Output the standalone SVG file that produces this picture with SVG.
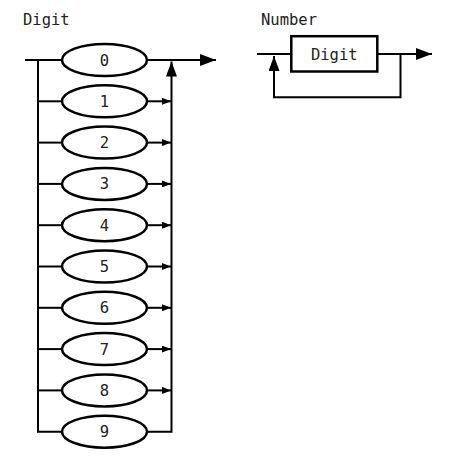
<svg xmlns="http://www.w3.org/2000/svg" width="449" height="465" viewBox="0 0 449 465">
<style>
  .bg { fill: #ffffff; }
  .lbl { font-family: "DejaVu Sans Mono", "Liberation Mono", monospace; font-size: 15.5px; fill: #222222; }
  .txt { font-family: "DejaVu Sans Mono", "Liberation Mono", monospace; font-size: 15.5px; fill: #222222; text-anchor: middle; }
  .term { fill: #ffffff; stroke: #000000; stroke-width: 2.5; }
  .wire { fill: none; stroke: #000000; stroke-width: 2; }
  .head { fill: #000000; }
</style>
<defs>
  <marker id="bigArrow" markerUnits="userSpaceOnUse" markerWidth="16" markerHeight="12" refX="16" refY="6" orient="auto">
    <path class="head" d="M0,0 L16,6 L0,12 z"/>
  </marker>
  <marker id="upArrow" markerUnits="userSpaceOnUse" markerWidth="15" markerHeight="11" refX="15" refY="5.5" orient="auto">
    <path class="head" d="M0,0 L15,5.5 L0,11 z"/>
  </marker>
  <marker id="smallArrow" markerUnits="userSpaceOnUse" markerWidth="9" markerHeight="7" refX="9" refY="3.5" orient="auto">
    <path class="head" d="M0,0 L9,3.5 L0,7 z"/>
  </marker>
</defs>
<rect class="bg" x="0" y="0" width="449" height="465"/>

<text class="lbl" x="23" y="25">Digit</text>
<text class="lbl" x="261" y="25">Number</text>

<g id="connectors">
  <!-- Digit diagram -->
  <path class="wire" d="M25,60 H61"/>
  <path class="wire" d="M148,60 H216" marker-end="url(#bigArrow)"/>
  <path class="wire" d="M38,60 V431.7 H61"/>
  <path class="wire" d="M148,431.7 H171.5 V61.5" marker-end="url(#upArrow)"/>
  <path class="wire" d="M38,101.3 H61"/>
  <path class="wire" d="M148,101.3 H171" marker-end="url(#smallArrow)"/>
  <path class="wire" d="M38,142.6 H61"/>
  <path class="wire" d="M148,142.6 H171" marker-end="url(#smallArrow)"/>
  <path class="wire" d="M38,183.9 H61"/>
  <path class="wire" d="M148,183.9 H171" marker-end="url(#smallArrow)"/>
  <path class="wire" d="M38,225.2 H61"/>
  <path class="wire" d="M148,225.2 H171" marker-end="url(#smallArrow)"/>
  <path class="wire" d="M38,266.5 H61"/>
  <path class="wire" d="M148,266.5 H171" marker-end="url(#smallArrow)"/>
  <path class="wire" d="M38,307.8 H61"/>
  <path class="wire" d="M148,307.8 H171" marker-end="url(#smallArrow)"/>
  <path class="wire" d="M38,349.1 H61"/>
  <path class="wire" d="M148,349.1 H171" marker-end="url(#smallArrow)"/>
  <path class="wire" d="M38,390.4 H61"/>
  <path class="wire" d="M148,390.4 H171" marker-end="url(#smallArrow)"/>
  <!-- Number diagram -->
  <path class="wire" d="M257,54 H291"/>
  <path class="wire" d="M378,54 H432" marker-end="url(#bigArrow)"/>
  <path class="wire" d="M400.5,54 V97.3 H274 V56" marker-end="url(#upArrow)"/>
</g>

<g id="d0"><ellipse class="term" cx="104.5" cy="60" rx="42.5" ry="16"/><text class="txt" x="104.5" y="65.5">0</text></g>
<g id="d1"><ellipse class="term" cx="104.5" cy="101.3" rx="42.5" ry="16"/><text class="txt" x="104.5" y="106.8">1</text></g>
<g id="d2"><ellipse class="term" cx="104.5" cy="142.6" rx="42.5" ry="16"/><text class="txt" x="104.5" y="148.1">2</text></g>
<g id="d3"><ellipse class="term" cx="104.5" cy="183.9" rx="42.5" ry="16"/><text class="txt" x="104.5" y="189.4">3</text></g>
<g id="d4"><ellipse class="term" cx="104.5" cy="225.2" rx="42.5" ry="16"/><text class="txt" x="104.5" y="230.7">4</text></g>
<g id="d5"><ellipse class="term" cx="104.5" cy="266.5" rx="42.5" ry="16"/><text class="txt" x="104.5" y="272">5</text></g>
<g id="d6"><ellipse class="term" cx="104.5" cy="307.8" rx="42.5" ry="16"/><text class="txt" x="104.5" y="313.3">6</text></g>
<g id="d7"><ellipse class="term" cx="104.5" cy="349.1" rx="42.5" ry="16"/><text class="txt" x="104.5" y="354.6">7</text></g>
<g id="d8"><ellipse class="term" cx="104.5" cy="390.4" rx="42.5" ry="16"/><text class="txt" x="104.5" y="395.9">8</text></g>
<g id="d9"><ellipse class="term" cx="104.5" cy="431.7" rx="42.5" ry="16"/><text class="txt" x="104.5" y="437.2">9</text></g>

<g id="numDigit"><rect class="term" x="291.3" y="36.2" width="86" height="35.3"/><text class="txt" x="334.3" y="59.5">Digit</text></g>
</svg>
